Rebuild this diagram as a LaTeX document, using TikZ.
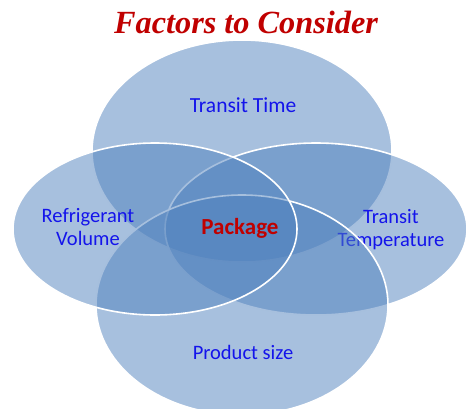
\documentclass[tikz,border=0pt]{standalone}
\usepackage{fontspec}
\setmainfont{Carlito}
\newfontfamily\titlefont{Liberation Serif}
\definecolor{vennblue}{RGB}{79,129,189}
\definecolor{titlered}{RGB}{192,0,0}
\definecolor{labelblue}{RGB}{20,20,235}
\tikzset{
  venn/.style={fill=vennblue, fill opacity=0.5, draw=white, line width=1.6pt},
  lbl/.style={text=labelblue, font=\fontsize{20.5}{23}\selectfont, align=center, inner sep=0pt},
}
\begin{document}
\begin{tikzpicture}[x=1pt,y=-1pt]
  \useasboundingbox (0,0) rectangle (466,408);
  % title
  \node[font=\titlefont\bfseries\itshape\fontsize{32.3}{36}\selectfont, text=titlered, inner sep=0pt]
    (title) at (246,22) {Factors to Consider};
  % circles, back to front
  \path[venn] (242,151) ellipse [x radius=150, y radius=111];
  \path[venn] (316,229) ellipse [x radius=151, y radius=86];
  \node[lbl] (temp) at (391,230) {Transit\\Temperature};
  \path[venn] (242,305) ellipse [x radius=146, y radius=110];
  \path[venn] (155,229) ellipse [x radius=142, y radius=86];
  % labels
  \node[lbl, font=\fontsize{21.5}{24}\selectfont] (time) at (243,105) {Transit Time};
  \node[lbl] (refr) at (88,227) {Refrigerant\\Volume};
  \node[lbl] (size) at (243,352) {Product size};
  \node[text=titlered, font=\bfseries\fontsize{23}{26}\selectfont, inner sep=0pt] (pack) at (240,228) {Package};
\end{tikzpicture}
\end{document}
